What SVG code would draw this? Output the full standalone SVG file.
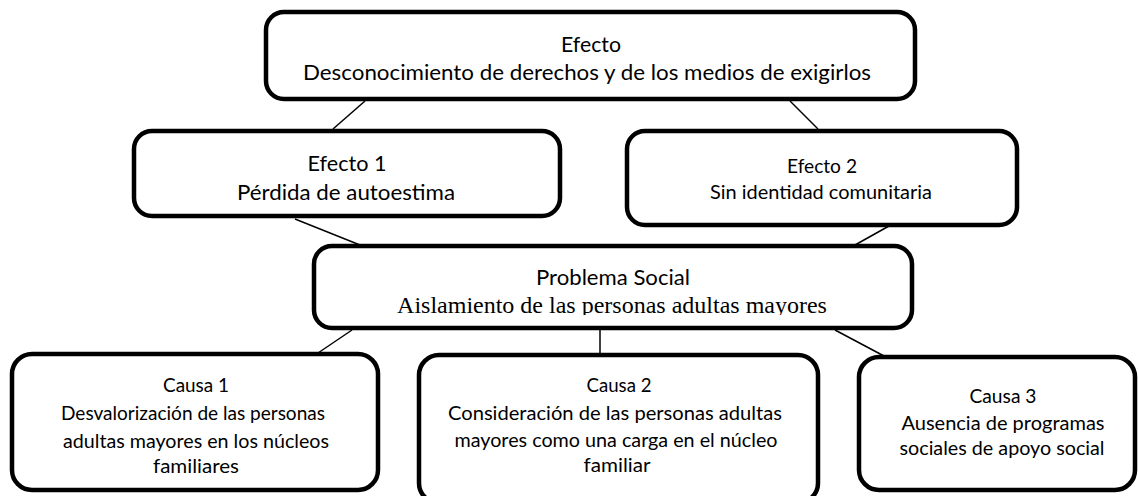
<svg xmlns="http://www.w3.org/2000/svg" width="1138" height="496" viewBox="0 0 1138 496">
<style>
.box{fill:#fff;stroke:#000;stroke-width:4.5}
.t{font-family:Lato,"Open Sans","Liberation Sans",sans-serif;fill:#000;text-anchor:middle}
.s{font-family:"Liberation Serif","Times New Roman",serif;fill:#000;text-anchor:middle}
.c line{stroke:#000;stroke-width:1.5}
</style>
<defs>
<clipPath id="clipSerif"><rect x="300" y="240" width="620" height="75"/></clipPath>
</defs>
<rect width="1138" height="496" fill="#fff"/>
<g class="c" id="connectors">
<line x1="365" y1="101" x2="333" y2="129"/>
<line x1="790" y1="101" x2="818" y2="129"/>
<line x1="295" y1="219" x2="360" y2="245"/>
<line x1="889" y1="226" x2="855" y2="245"/>
<line x1="352" y1="330" x2="318" y2="353"/>
<line x1="600" y1="330" x2="600" y2="354"/>
<line x1="835" y1="330" x2="884" y2="356"/>
</g>
<g id="efecto">
<rect class="box" x="266" y="12" width="649" height="87" rx="18"/>
<text class="t" x="591" y="52" font-size="22" textLength="60" lengthAdjust="spacingAndGlyphs">Efecto</text>
<text class="t" x="587" y="80" font-size="22" textLength="568" lengthAdjust="spacingAndGlyphs">Desconocimiento de derechos y de los medios de exigirlos</text>
</g>
<g id="efecto1">
<rect class="box" x="134" y="131" width="426" height="85" rx="18"/>
<text class="t" x="347" y="171" font-size="22" textLength="79" lengthAdjust="spacingAndGlyphs">Efecto 1</text>
<text class="t" x="346" y="200" font-size="22" textLength="218" lengthAdjust="spacingAndGlyphs">Pérdida de autoestima</text>
</g>
<g id="efecto2">
<rect class="box" x="627" y="131" width="390" height="94" rx="18"/>
<text class="t" x="822" y="173" font-size="19.5" textLength="70" lengthAdjust="spacingAndGlyphs">Efecto 2</text>
<text class="t" x="821" y="199" font-size="19.5" textLength="222" lengthAdjust="spacingAndGlyphs">Sin identidad comunitaria</text>
</g>
<g id="problema">
<rect class="box" x="314" y="246" width="598" height="82" rx="18"/>
<text class="t" x="613" y="285" font-size="22" textLength="154" lengthAdjust="spacingAndGlyphs">Problema Social</text>
<text class="s" x="612" y="313" font-size="24" clip-path="url(#clipSerif)">Aislamiento de las personas adultas mayores</text>
</g>
<g id="causa1">
<rect class="box" x="12" y="354" width="366" height="136" rx="20"/>
<text class="t" x="196" y="392" font-size="19.5" textLength="66" lengthAdjust="spacingAndGlyphs">Causa 1</text>
<text class="t" x="193" y="420" font-size="19.5" textLength="264" lengthAdjust="spacingAndGlyphs">Desvalorización de las personas</text>
<text class="t" x="196" y="448" font-size="19.5" textLength="266" lengthAdjust="spacingAndGlyphs">adultas mayores en los núcleos</text>
<text class="t" x="196" y="473" font-size="19.5" textLength="86" lengthAdjust="spacingAndGlyphs">familiares</text>
</g>
<g id="causa2">
<rect class="box" x="419" y="355" width="399" height="148" rx="20"/>
<text class="t" x="619" y="392" font-size="19.5" textLength="65" lengthAdjust="spacingAndGlyphs">Causa 2</text>
<text class="t" x="615" y="420" font-size="19.5" textLength="334" lengthAdjust="spacingAndGlyphs">Consideración de las personas adultas</text>
<text class="t" x="616" y="447" font-size="19.5" textLength="323" lengthAdjust="spacingAndGlyphs">mayores como una carga en el núcleo</text>
<text class="t" x="617" y="472" font-size="19.5" textLength="67" lengthAdjust="spacingAndGlyphs">familiar</text>
</g>
<g id="causa3">
<rect class="box" x="859" y="357" width="276" height="133" rx="20"/>
<text class="t" x="1003" y="403" font-size="19.5" textLength="67" lengthAdjust="spacingAndGlyphs">Causa 3</text>
<text class="t" x="1003" y="430" font-size="19.5" textLength="203" lengthAdjust="spacingAndGlyphs">Ausencia de programas</text>
<text class="t" x="1002" y="455" font-size="19.5" textLength="205" lengthAdjust="spacingAndGlyphs">sociales de apoyo social</text>
</g>
</svg>
